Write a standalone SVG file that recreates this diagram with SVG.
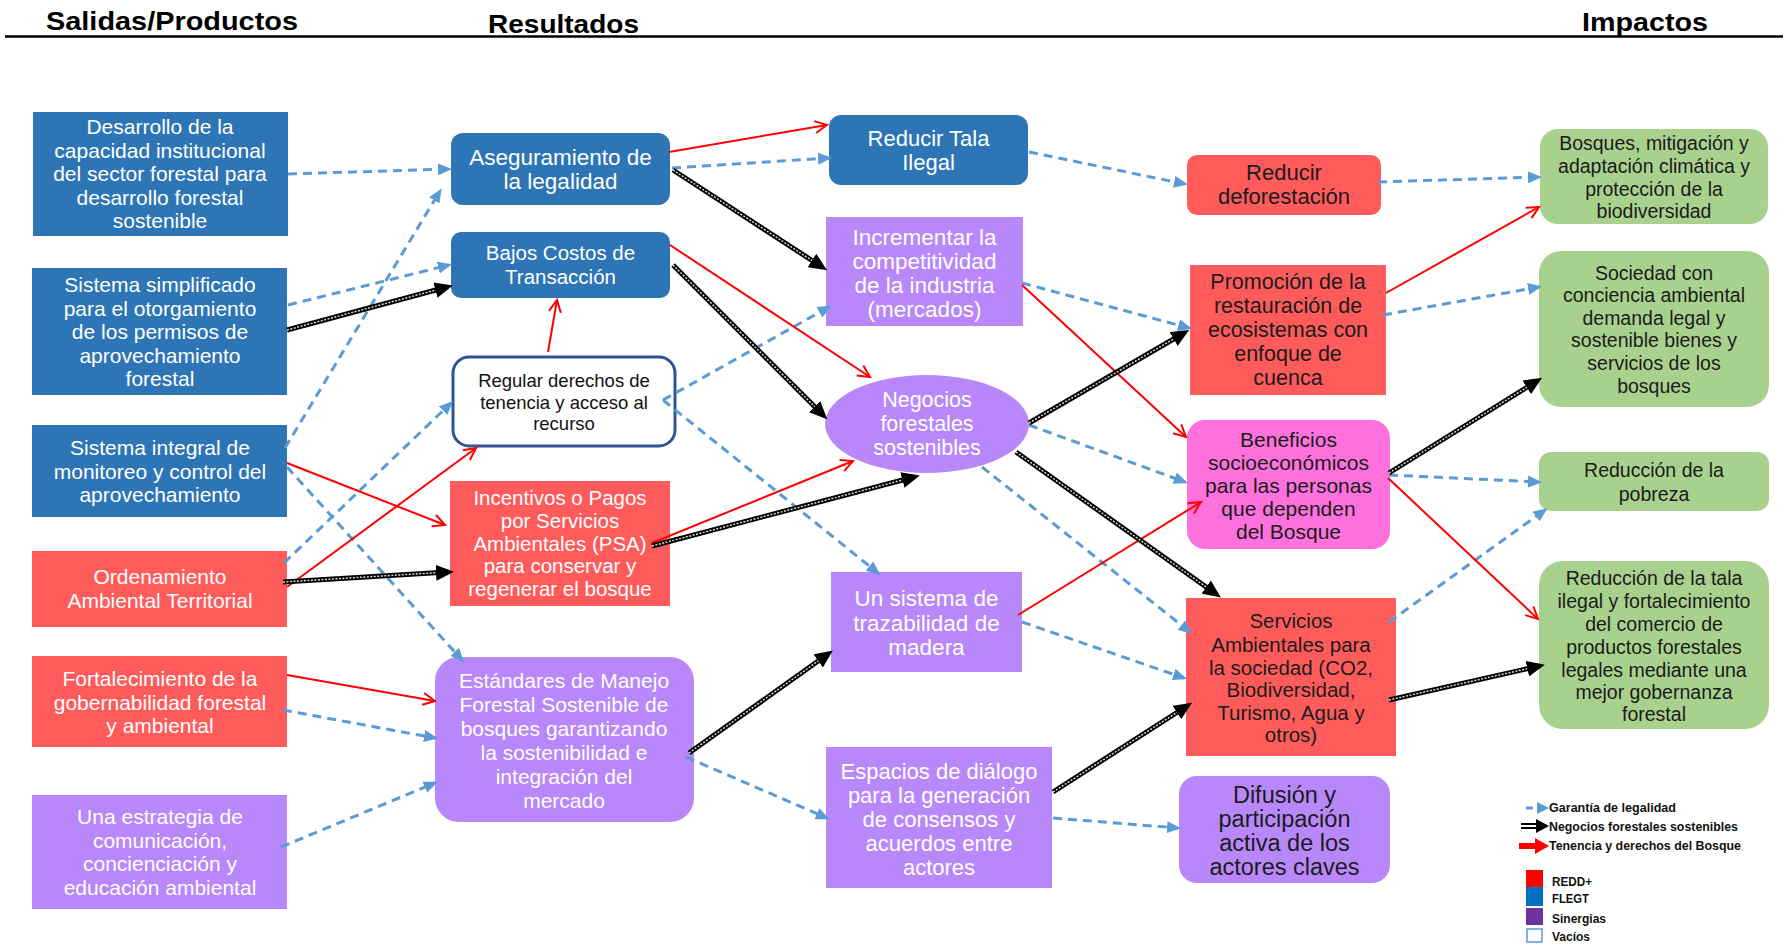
<svg xmlns="http://www.w3.org/2000/svg" width="1786" height="945" viewBox="0 0 1786 945">
<style>
.t{font-family:"Liberation Sans",Arial,sans-serif;font-size:20.5px;text-anchor:middle}
.w{fill:#ffffff}
.d{fill:#1b1b1b}
.lc{font-size:21px}
.gr{font-size:19.5px}
.rg{font-size:18.5px}
.hd{font-family:"Liberation Sans",Arial,sans-serif;font-weight:bold;font-size:25px;fill:#000}
.lg{font-family:"Liberation Sans",Arial,sans-serif;font-weight:bold;font-size:12px;fill:#111}
.blue{fill:#2E75B6}
.red{fill:#FF5B5B}
.pur{fill:#B888FA}
.pink{fill:#FF72DE}
.grn{fill:#A9D18E}
.cb{fill:none;stroke:#5B9BD5;stroke-width:3;stroke-dasharray:9 6;marker-end:url(#mb)}
.cr{fill:none;stroke:#FF0000;stroke-width:2;marker-end:url(#mr)}
.ck{fill:none;stroke:#000;stroke-width:5}
.ckh{fill:none;stroke:#d8d8d8;stroke-width:1.5;stroke-dasharray:2 1.5;marker-end:url(#mk)}
</style>
<defs>
<marker id="mb" viewBox="0 0 14 12" refX="11" refY="6" markerWidth="14" markerHeight="12" orient="auto" markerUnits="userSpaceOnUse"><path d="M0,0 L14,6 L0,12 z" fill="#5B9BD5"/></marker>
<marker id="mk" viewBox="0 0 18 16" refX="12" refY="8" markerWidth="18" markerHeight="16" orient="auto" markerUnits="userSpaceOnUse"><path d="M0,0 L18,8 L0,16 z" fill="#000"/></marker>
<marker id="mr" viewBox="0 0 14 14" refX="13" refY="7" markerWidth="14" markerHeight="14" orient="auto" markerUnits="userSpaceOnUse" overflow="visible"><path d="M1,1 L13,7 L1,13" fill="none" stroke="#FF0000" stroke-width="2"/></marker>
</defs>

<g id="headers">
<text class="hd" x="46" y="30" textLength="252" lengthAdjust="spacingAndGlyphs">Salidas/Productos</text>
<text class="hd" x="488" y="33" textLength="151" lengthAdjust="spacingAndGlyphs">Resultados</text>
<text class="hd" x="1582" y="31" textLength="126" lengthAdjust="spacingAndGlyphs">Impactos</text>
<line x1="5" y1="36.5" x2="1783" y2="36.5" stroke="#000" stroke-width="2.5"/>
</g>

<g id="n-desarrollo"><rect class="blue" x="33" y="112" width="255" height="124"/>
<text class="t w lc"><tspan x="160" y="134">Desarrollo de la</tspan><tspan x="160" y="157.5">capacidad institucional</tspan><tspan x="160" y="181">del sector forestal para</tspan><tspan x="160" y="204.5">desarrollo forestal</tspan><tspan x="160" y="228">sostenible</tspan></text></g>

<g id="n-simplificado"><rect class="blue" x="32" y="268" width="255" height="127"/>
<text class="t w lc"><tspan x="160" y="292">Sistema simplificado</tspan><tspan x="160" y="315.5">para el otorgamiento</tspan><tspan x="160" y="339">de los permisos de</tspan><tspan x="160" y="362.5">aprovechamiento</tspan><tspan x="160" y="386">forestal</tspan></text></g>

<g id="n-integral"><rect class="blue" x="32" y="425" width="255" height="92"/>
<text class="t w lc"><tspan x="160" y="455">Sistema integral de</tspan><tspan x="160" y="478.5">monitoreo y control del</tspan><tspan x="160" y="502">aprovechamiento</tspan></text></g>

<g id="n-ordenamiento"><rect class="red" x="32" y="551" width="255" height="76"/>
<text class="t w lc"><tspan x="160" y="584">Ordenamiento</tspan><tspan x="160" y="608">Ambiental Territorial</tspan></text></g>

<g id="n-fortalecimiento"><rect class="red" x="32" y="656" width="255" height="91"/>
<text class="t w lc"><tspan x="160" y="686">Fortalecimiento de la</tspan><tspan x="160" y="709.5">gobernabilidad forestal</tspan><tspan x="160" y="733">y ambiental</tspan></text></g>

<g id="n-estrategia"><rect class="pur" x="32" y="795" width="255" height="114"/>
<text class="t w lc"><tspan x="160" y="824">Una estrategia de</tspan><tspan x="160" y="847.5">comunicación,</tspan><tspan x="160" y="871">concienciación y</tspan><tspan x="160" y="894.5">educación ambiental</tspan></text></g>

<g id="n-aseguramiento"><rect class="blue" x="451" y="133" width="219" height="72" rx="12"/>
<text class="t w" style="font-size:22.5px"><tspan x="560.5" y="164.5">Aseguramiento de</tspan><tspan x="560.5" y="188.5">la legalidad</tspan></text></g>

<g id="n-bajos"><rect class="blue" x="451" y="232" width="219" height="66" rx="10"/>
<text class="t w"><tspan x="560.5" y="260">Bajos Costos de</tspan><tspan x="560.5" y="284">Transacción</tspan></text></g>

<g id="n-regular"><rect x="453" y="357" width="222" height="89" rx="16" fill="#fff" stroke="#2F5597" stroke-width="3"/>
<text class="t rg" fill="#111"><tspan x="564" y="387">Regular derechos de</tspan><tspan x="564" y="408.5">tenencia y acceso al</tspan><tspan x="564" y="430">recurso</tspan></text></g>

<g id="n-incentivos"><rect class="red" x="450" y="481" width="220" height="125"/>
<text class="t w"><tspan x="560" y="505">Incentivos o Pagos</tspan><tspan x="560" y="528">por Servicios</tspan><tspan x="560" y="550.5">Ambientales (PSA)</tspan><tspan x="560" y="573">para conservar y</tspan><tspan x="560" y="596">regenerar el bosque</tspan></text></g>

<g id="n-estandares"><rect class="pur" x="435" y="657" width="259" height="165" rx="24"/>
<text class="t w" style="font-size:21px"><tspan x="564" y="688">Estándares de Manejo</tspan><tspan x="564" y="712">Forestal Sostenible de</tspan><tspan x="564" y="736">bosques garantizando</tspan><tspan x="564" y="760">la sostenibilidad e</tspan><tspan x="564" y="784">integración del</tspan><tspan x="564" y="807.5">mercado</tspan></text></g>

<g id="n-reducir-tala"><rect class="blue" x="829" y="115" width="199" height="70" rx="12"/>
<text class="t w" style="font-size:22px"><tspan x="928.5" y="146">Reducir Tala</tspan><tspan x="928.5" y="169.5">Ilegal</tspan></text></g>

<g id="n-incrementar"><rect class="pur" x="826" y="217" width="197" height="109"/>
<text class="t w" style="font-size:22.5px"><tspan x="924.5" y="244.5">Incrementar la</tspan><tspan x="924.5" y="268.5">competitividad</tspan><tspan x="924.5" y="292.5">de la industria</tspan><tspan x="924.5" y="316.5">(mercados)</tspan></text></g>

<g id="n-negocios"><ellipse class="pur" cx="927" cy="424" rx="102" ry="49"/>
<text class="t w" style="font-size:21.5px"><tspan x="927" y="407">Negocios</tspan><tspan x="927" y="431">forestales</tspan><tspan x="927" y="455">sostenibles</tspan></text></g>

<g id="n-trazabilidad"><rect class="pur" x="831" y="572" width="191" height="100"/>
<text class="t w" style="font-size:22.5px"><tspan x="926.5" y="605.5">Un sistema de</tspan><tspan x="926.5" y="630.5">trazabilidad de</tspan><tspan x="926.5" y="654.5">madera</tspan></text></g>

<g id="n-espacios"><rect class="pur" x="826" y="747" width="226" height="141"/>
<text class="t w" style="font-size:22px"><tspan x="939" y="779">Espacios de diálogo</tspan><tspan x="939" y="803">para la generación</tspan><tspan x="939" y="826.5">de consensos y</tspan><tspan x="939" y="850.5">acuerdos entre</tspan><tspan x="939" y="874.5">actores</tspan></text></g>

<g id="n-deforestacion"><rect class="red" x="1187" y="155" width="194" height="60" rx="10"/>
<text class="t d" style="font-size:22px"><tspan x="1284" y="180">Reducir</tspan><tspan x="1284" y="204">deforestación</tspan></text></g>

<g id="n-promocion"><rect class="red" x="1190" y="265" width="196" height="130"/>
<text class="t d" style="font-size:21.5px"><tspan x="1288" y="289">Promoción de la</tspan><tspan x="1288" y="313">restauración de</tspan><tspan x="1288" y="337">ecosistemas con</tspan><tspan x="1288" y="361">enfoque de</tspan><tspan x="1288" y="385">cuenca</tspan></text></g>

<g id="n-beneficios"><rect class="pink" x="1187" y="420" width="203" height="129" rx="18"/>
<text class="t d" style="font-size:21px"><tspan x="1288.5" y="447">Beneficios</tspan><tspan x="1288.5" y="470">socioeconómicos</tspan><tspan x="1288.5" y="493">para las personas</tspan><tspan x="1288.5" y="516">que dependen</tspan><tspan x="1288.5" y="538.5">del Bosque</tspan></text></g>

<g id="n-servicios"><rect class="red" x="1186" y="598" width="210" height="158"/>
<text class="t d"><tspan x="1291" y="628">Servicios</tspan><tspan x="1291" y="651.5">Ambientales para</tspan><tspan x="1291" y="674.5">la sociedad (CO2,</tspan><tspan x="1291" y="697">Biodiversidad,</tspan><tspan x="1291" y="719.5">Turismo, Agua y</tspan><tspan x="1291" y="742">otros)</tspan></text></g>

<g id="n-difusion"><rect class="pur" x="1179" y="776" width="211" height="107" rx="18"/>
<text class="t d" style="font-size:23.5px"><tspan x="1284.5" y="802.5">Difusión y</tspan><tspan x="1284.5" y="826.5">participación</tspan><tspan x="1284.5" y="850.5">activa de los</tspan><tspan x="1284.5" y="874.5">actores claves</tspan></text></g>

<g id="n-bosques"><rect class="grn" x="1540" y="129" width="228" height="95" rx="18"/>
<text class="t d gr"><tspan x="1654" y="150">Bosques, mitigación y</tspan><tspan x="1654" y="172.5">adaptación climática y</tspan><tspan x="1654" y="195.5">protección de la</tspan><tspan x="1654" y="218">biodiversidad</tspan></text></g>

<g id="n-sociedad"><rect class="grn" x="1539" y="251" width="230" height="156" rx="22"/>
<text class="t d gr"><tspan x="1654" y="279.5">Sociedad con</tspan><tspan x="1654" y="302">conciencia ambiental</tspan><tspan x="1654" y="325">demanda legal y</tspan><tspan x="1654" y="347">sostenible bienes y</tspan><tspan x="1654" y="369.5">servicios de los</tspan><tspan x="1654" y="392.5">bosques</tspan></text></g>

<g id="n-pobreza"><rect class="grn" x="1539" y="452" width="230" height="59" rx="12"/>
<text class="t d gr"><tspan x="1654" y="476.5">Reducción de la</tspan><tspan x="1654" y="500.5">pobreza</tspan></text></g>

<g id="n-tala"><rect class="grn" x="1539" y="561" width="230" height="168" rx="24"/>
<text class="t d gr"><tspan x="1654" y="585">Reducción de la tala</tspan><tspan x="1654" y="608">ilegal y fortalecimiento</tspan><tspan x="1654" y="631">del comercio de</tspan><tspan x="1654" y="654">productos forestales</tspan><tspan x="1654" y="677">legales mediante una</tspan><tspan x="1654" y="699">mejor gobernanza</tspan><tspan x="1654" y="721">forestal</tspan></text></g>

<g id="connectors">
<g id="legalidad">
<path class="cb" d="M288,174 L449,169"/>
<path class="cb" d="M288,305 L449,265"/>
<path class="cb" d="M285,448 L440,191"/>
<path class="cb" d="M284,563 L451,403"/>
<path class="cb" d="M287,467 L462,660"/>
<path class="cb" d="M283,710 L435,738"/>
<path class="cb" d="M281,847 L435,783"/>
<path class="cb" d="M672,168 L829,158"/>
<path class="cb" d="M663,400 L829,307"/>
<path class="cb" d="M663,400 L878,573"/>
<path class="cb" d="M1029,152 L1185,184"/>
<path class="cb" d="M1378,182 L1539,177"/>
<path class="cb" d="M1022,283 L1189,328"/>
<path class="cb" d="M1383,315 L1539,287"/>
<path class="cb" d="M1029,425 L1185,482"/>
<path class="cb" d="M982,467 L1190,632"/>
<path class="cb" d="M1022,622 L1184,678"/>
<path class="cb" d="M1389,475 L1539,482"/>
<path class="cb" d="M1389,622 L1545,510"/>
<path class="cb" d="M686,757 L827,818"/>
<path class="cb" d="M1053,818 L1178,828"/>
</g>
<g id="tenencia">
<path class="cr" d="M669,152 L827,125"/>
<path class="cr" d="M670,245 L870,377"/>
<path class="cr" d="M548,352 L557,300"/>
<path class="cr" d="M287,463 L445,525"/>
<path class="cr" d="M287,587 L476,448"/>
<path class="cr" d="M287,675 L435,701"/>
<path class="cr" d="M652,543 L853,461"/>
<path class="cr" d="M1022,285 L1186,437"/>
<path class="cr" d="M1386,293 L1539,207"/>
<path class="cr" d="M1018,615 L1201,502"/>
<path class="cr" d="M1388,478 L1538,619"/>
</g>
<g id="negocios">
<path class="ck" d="M287,330 L447,287"/><path class="ckh" d="M287,330 L447,287"/>
<path class="ck" d="M673,170 L822,267"/><path class="ckh" d="M673,170 L822,267"/>
<path class="ck" d="M673,265 L823,415"/><path class="ckh" d="M673,265 L823,415"/>
<path class="ck" d="M283,582 L448,572"/><path class="ckh" d="M283,582 L448,572"/>
<path class="ck" d="M652,546 L914,477"/><path class="ckh" d="M652,546 L914,477"/>
<path class="ck" d="M689,753 L828,654"/><path class="ckh" d="M689,753 L828,654"/>
<path class="ck" d="M1029,423 L1184,333"/><path class="ckh" d="M1029,423 L1184,333"/>
<path class="ck" d="M1016,452 L1216,594"/><path class="ckh" d="M1016,452 L1216,594"/>
<path class="ck" d="M1053,792 L1187,706"/><path class="ckh" d="M1053,792 L1187,706"/>
<path class="ck" d="M1389,473 L1537,381"/><path class="ckh" d="M1389,473 L1537,381"/>
<path class="ck" d="M1389,700 L1539,666"/><path class="ckh" d="M1389,700 L1539,666"/>
</g>
</g>

<g id="legend">
<line x1="1526" y1="808" x2="1533" y2="808" stroke="#5B9BD5" stroke-width="3"/>
<path d="M1537,802 L1549,808 L1537,814 z" fill="#5B9BD5"/>
<text class="lg" x="1549" y="812" textLength="127" lengthAdjust="spacingAndGlyphs">Garantía de legalidad</text>
<path d="M1521,824 L1538,824 M1521,828 L1538,828" stroke="#000" stroke-width="2" fill="none"/>
<path d="M1536,819 L1549,826 L1536,833 z" fill="#000"/>
<text class="lg" x="1549" y="831" textLength="189" lengthAdjust="spacingAndGlyphs">Negocios forestales sostenibles</text>
<line x1="1519" y1="846" x2="1538" y2="846" stroke="#FF0000" stroke-width="6"/>
<path d="M1535,838 L1549,846 L1535,854 z" fill="#FF0000"/>
<text class="lg" x="1549" y="850" textLength="192" lengthAdjust="spacingAndGlyphs">Tenencia y derechos del Bosque</text>
<rect x="1526" y="870" width="17" height="17" fill="#FF0000"/>
<rect x="1526" y="887" width="17" height="19" fill="#0070C0"/>
<rect x="1526" y="908" width="17" height="17" fill="#7030A0"/>
<rect x="1527" y="929" width="15" height="13" fill="#fff" stroke="#5B9BD5" stroke-width="1.5"/>
<text class="lg" x="1552" y="886" textLength="40" lengthAdjust="spacingAndGlyphs">REDD+</text>
<text class="lg" x="1552" y="903" textLength="37" lengthAdjust="spacingAndGlyphs">FLEGT</text>
<text class="lg" x="1552" y="923" textLength="54" lengthAdjust="spacingAndGlyphs">Sinergias</text>
<text class="lg" x="1552" y="941" textLength="38" lengthAdjust="spacingAndGlyphs">Vacíos</text>
</g>
</svg>
